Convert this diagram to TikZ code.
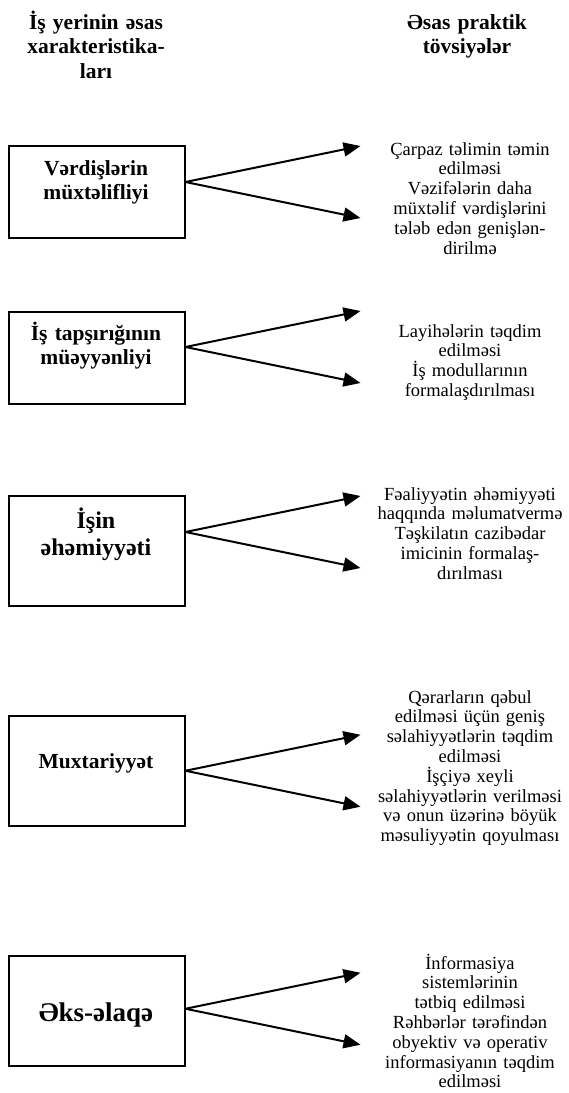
\documentclass[tikz,border=0pt]{standalone}
\usepackage{fontspec}
\setmainfont{Liberation Serif}
\usetikzlibrary{arrows.meta,calc}

\begin{document}
\begin{tikzpicture}[x=1pt,y=-1pt,
  box/.style={draw, line width=1.5pt, minimum width=176pt, inner sep=0pt, anchor=north west},
  boldtxt/.style={font=\bfseries\fontsize{21.5}{24.5}\selectfont, align=center, text width=200pt, anchor=base, inner sep=0pt},
  advice/.style={font=\fontsize{18.5}{19.8}\selectfont, align=center, text width=230pt, anchor=base, inner sep=0pt},
  arr/.style={line width=2pt, -{Triangle[length=17pt,width=14pt]}}
]
\fill[white] (0,0) rectangle (569,1093);
\useasboundingbox (0,0) rectangle (569,1093);

% column headers
\node[boldtxt] (hl) at (96,29) {İş yerinin əsas\\xarakteristika-\\ları};
\node[boldtxt] (hr) at (467,29) {Əsas praktik\\tövsiyələr};

% characteristic boxes
\node[box, minimum height=92pt]  (b1) at (8,145) {};
\node[box, minimum height=92pt]  (b2) at (8,311) {};
\node[box, minimum height=110pt] (b3) at (8,495) {};
\node[box, minimum height=110pt] (b4) at (8,715) {};
\node[box, minimum height=110pt] (b5) at (8,955) {};

\node[boldtxt] (t1) at (96,175) {Vərdişlərin\\müxtəlifliyi};
\node[boldtxt] (t2) at (96,340) {İş tapşırığının\\müəyyənliyi};
\node[boldtxt, font=\bfseries\fontsize{24}{27}\selectfont] (t3) at (96,528) {İşin\\əhəmiyyəti};
\node[boldtxt] (t4) at (96,768) {Muxtariyyət};
\node[boldtxt, font=\bfseries\fontsize{27}{30}\selectfont] (t5) at (96,1021) {Əks-əlaqə};

% recommendations
\node[advice] (r1) at (470,155) {Çarpaz təlimin təmin\\edilməsi\\Vəzifələrin daha\\müxtəlif vərdişlərini\\tələb edən genişlən-\\dirilmə};
\node[advice] (r2) at (470,337) {Layihələrin təqdim\\edilməsi\\İş modullarının\\formalaşdırılması};
\node[advice] (r3) at (470,500) {Fəaliyyətin əhəmiyyəti\\haqqında məlumatvermə\\Təşkilatın cazibədar\\imicinin formalaş-\\dırılması};
\node[advice] (r4) at (470,703) {Qərarların qəbul\\edilməsi üçün geniş\\səlahiyyətlərin təqdim\\edilməsi\\İşçiyə xeyli\\səlahiyyətlərin verilməsi\\və onun üzərinə böyük\\məsuliyyətin qoyulması};
\node[advice] (r5) at (470,969) {İnformasiya\\sistemlərinin\\tətbiq edilməsi\\Rəhbərlər tərəfindən\\obyektiv və operativ\\informasiyanın təqdim\\edilməsi};

% arrow start points on the boxes and arrow tips
\coordinate (o1) at ($(b1.north east)+(0,37)$);
\coordinate (o2) at ($(b2.north east)+(0,36)$);
\coordinate (o3) at ($(b3.north east)+(0,37)$);
\coordinate (o4) at (b4.east);
\coordinate (o5) at ($(b5.east)+(0,-2)$);
\foreach \i in {1,...,5}{
  \coordinate (u\i) at ($(o\i)+(175,-36)$);
  \coordinate (d\i) at ($(o\i)+(175,36)$);
  \draw[arr] (o\i) -- (u\i);
  \draw[arr] (o\i) -- (d\i);
}
\end{tikzpicture}
\end{document}
